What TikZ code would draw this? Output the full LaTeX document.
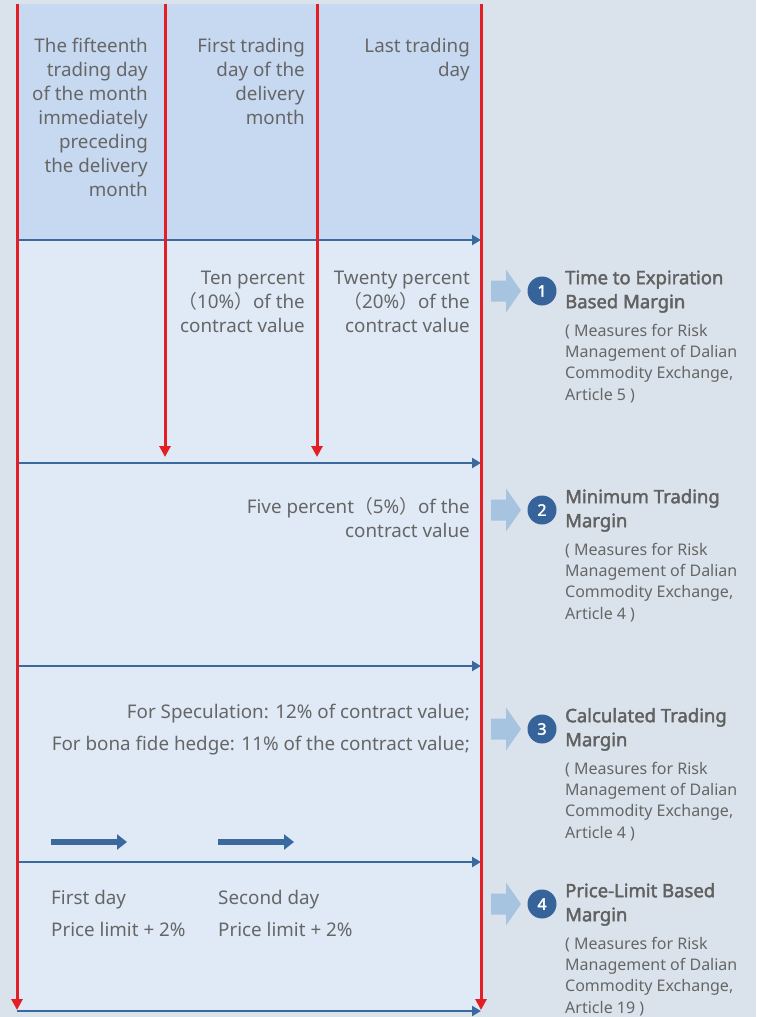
\documentclass[tikz,border=0pt]{standalone}
\usepackage{fontspec}
\setmainfont{Noto Sans}[AutoFakeBold=2.2]
\newfontfamily\cjkfont{Noto Sans CJK SC}
\usetikzlibrary{arrows.meta}
\definecolor{bgc}{HTML}{DAE3EC}
\definecolor{headc}{HTML}{C6D9F0}
\definecolor{panelc}{HTML}{DFEAF6}
\definecolor{redc}{HTML}{E31E24}
\definecolor{bluec}{HTML}{3A6A9D}
\definecolor{txtc}{HTML}{666666}
\definecolor{circc}{HTML}{36649A}
\definecolor{chevc}{HTML}{A6C3DF}
% first-line strut so that north anchors sit at a fixed distance above the baseline
\newcommand\lnstrut{\rule{0pt}{18pt}}
\newcommand\smstrut{\rule{0pt}{15pt}}
\newcommand\lpar{{\cjkfont （}}
\newcommand\rpar{{\cjkfont ）}}
\tikzset{
  redline/.style={draw=redc, line width=3pt, -{Triangle[length=11pt,width=11pt]}},
  blueline/.style={draw=bluec, line width=2.8pt, -{Triangle[length=9pt,width=10pt]}},
  dayarrow/.style={draw=bluec, line width=6pt, -{Triangle[length=10pt,width=15pt]}},
  rlbl/.style={inner sep=0, text=txtc, font=\fontsize{18.8}{24}\selectfont, align=right, anchor=north east},
  llbl/.style={inner sep=0, text=txtc, font=\fontsize{18.8}{24}\selectfont, align=left, anchor=north west},
  ttl/.style={inner sep=0, text=txtc!95!black, font=\bfseries\fontsize{18.5}{24}\selectfont, align=left, anchor=north west},
  src/.style={inner sep=0, text=txtc, font=\fontsize{16}{21.3}\selectfont, align=left, anchor=north west},
  numc/.style={circle, fill=circc, minimum size=29pt, inner sep=0, text=white, font=\bfseries\fontsize{16}{16}\selectfont},
  chev/.style={fill=chevc}
}
\begin{document}
\begin{tikzpicture}[x=1pt,y=-1pt]
  \useasboundingbox (0,0) rectangle (756,1017);
  \fill[bgc] (0,0) rectangle (756,1017);
  % panel
  \fill[panelc] (17,4) rectangle (481,1012);
  \fill[headc] (17,4) rectangle (481,240);

  % horizontal time axes
  \foreach \n/\yy in {1/240,2/463,3/666,4/862,5/1011}{
    \coordinate (h\n l) at (17,\yy);
    \coordinate (h\n r) at (481,\yy);
  }
  \draw[blueline] (h1l) -- (h1r);
  \draw[blueline] (h2l) -- (h2r);
  \draw[blueline] (h3l) -- (h3r);
  \draw[blueline] (h4l) -- (h4r);
  \draw[blueline] (h5l) -- (h5r);

  % vertical date markers
  \coordinate (v1t) at (17,4);  \coordinate (v1b) at (17,1010);
  \coordinate (v2t) at (165,4); \coordinate (v2b) at (165,457);
  \coordinate (v3t) at (317,4); \coordinate (v3b) at (317,457);
  \coordinate (v4t) at (481,4); \coordinate (v4b) at (481,1010);
  \draw[redline] (v1t) -- (v1b);
  \draw[redline] (v2t) -- (v2b);
  \draw[redline] (v3t) -- (v3b);
  \draw[redline] (v4t) -- (v4b);

  % column headings
  \node[rlbl] (d1) at (148,34) {\lnstrut The fifteenth\\trading day\\of the month\\immediately\\preceding\\the delivery\\month};
  \node[rlbl] (d2) at (305,34) {\lnstrut First trading\\day of the\\delivery\\month};
  \node[rlbl] (d3) at (470,34) {\lnstrut Last trading\\day};

  % section 1
  \node[rlbl] (s1a) at (305,266) {\lnstrut Ten percent\\\lpar 10\%\rpar of the\\contract value};
  \node[rlbl] (s1b) at (470,266) {\lnstrut Twenty percent\\\lpar 20\%\rpar of the\\contract value};

  % section 2
  \node[rlbl] (s2) at (470,495) {\lnstrut Five percent\lpar 5\%\rpar of the\\contract value};

  % section 3
  \node[rlbl, font=\fontsize{18.8}{32.5}\selectfont] (s3) at (470,700) {\lnstrut For Speculation: 12\% of contract value;\\For bona fide hedge: 11\% of the contract value;};
  \coordinate (a1s) at (51,842);  \coordinate (a1e) at (127,842);
  \coordinate (a2s) at (218,842); \coordinate (a2e) at (294,842);
  \draw[dayarrow] (a1s) -- (a1e);
  \draw[dayarrow] (a2s) -- (a2e);

  % section 4
  \node[llbl, font=\fontsize{18.8}{32}\selectfont] (s4a) at (51,886) {\lnstrut First day\\Price limit + 2\%};
  \node[llbl, font=\fontsize{18.8}{32}\selectfont] (s4b) at (218,886) {\lnstrut Second day\\Price limit + 2\%};

  % margin types
  \foreach \n/\yy in {1/284,2/503,3/722,4/897}{
    \pgfmathsetmacro\cy{\yy+7}
    \fill[chev] (491,\cy-10.5) -- (506,\cy-10.5) -- (506,\cy-21.5) -- (521,\cy)
      -- (506,\cy+21.5) -- (506,\cy+10.5) -- (491,\cy+10.5) -- cycle;
    \node[numc] (c\n) at (542,\cy) {\n};
  }
  \node[ttl] (t1) at (565,266) {\lnstrut Time to Expiration\\Based Margin};
  \node[src] (r1) at (565,321) {\smstrut( Measures for Risk\\Management of Dalian\\Commodity Exchange,\\Article 5 )};
  \node[ttl] (t2) at (565,485) {\lnstrut Minimum Trading\\Margin};
  \node[src] (r2) at (565,540) {\smstrut( Measures for Risk\\Management of Dalian\\Commodity Exchange,\\Article 4 )};
  \node[ttl] (t3) at (565,704) {\lnstrut Calculated Trading\\Margin};
  \node[src] (r3) at (565,759) {\smstrut( Measures for Risk\\Management of Dalian\\Commodity Exchange,\\Article 4 )};
  \node[ttl] (t4) at (565,879) {\lnstrut Price-Limit Based\\Margin};
  \node[src] (r4) at (565,934) {\smstrut( Measures for Risk\\Management of Dalian\\Commodity Exchange,\\Article 19 )};
\end{tikzpicture}
\end{document}
